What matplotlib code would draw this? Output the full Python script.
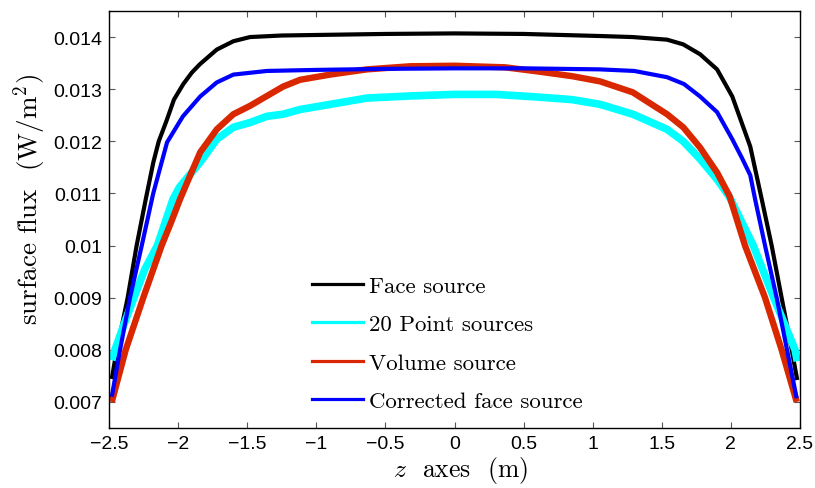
import matplotlib
matplotlib.use("Agg")
import matplotlib.pyplot as plt
from matplotlib.lines import Line2D

# ---------------- data ----------------
x_face = [-2.48, -2.444, -2.40, -2.365, -2.30, -2.234, -2.179, -2.14, -2.083, -2.03, -1.962,
          -1.90, -1.842, -1.72, -1.60, -1.48, -1.25, -1.00, -0.50, 0.00, 0.50, 1.053,
          1.29, 1.538, 1.655, 1.777, 1.90, 2.01, 2.14, 2.223, 2.295, 2.367, 2.44, 2.48]
y_face = [0.00744, 0.00800, 0.00855, 0.00900, 0.01000, 0.01089, 0.01160, 0.01200, 0.01240, 0.01280, 0.01310,
          0.01332, 0.01348, 0.01376, 0.01392, 0.01400, 0.01403, 0.01404, 0.01406, 0.01407, 0.01406, 0.01402,
          0.01400, 0.01395, 0.01386, 0.01367, 0.01338, 0.01286, 0.01190, 0.01089, 0.01000, 0.00900, 0.00800, 0.00742]

x_point = [-2.48, -2.457, -2.39, -2.32, -2.24, -2.15, -2.037, -1.99, -1.84, -1.72, -1.60, -1.48,
           -1.357, -1.24, -1.118, -0.633, -0.32, 0.00, 0.30, 0.60, 0.85, 1.053, 1.29, 1.538,
           1.655, 1.777, 1.90, 1.99, 2.162, 2.31, 2.464, 2.48]
y_point = [0.00780, 0.00800, 0.00850, 0.00900, 0.00955, 0.01000, 0.01089, 0.01112, 0.01160, 0.01204, 0.01227, 0.01236,
           0.01248, 0.01252, 0.01261, 0.01283, 0.01287, 0.01290, 0.01290, 0.01285, 0.01280, 0.01271, 0.01252, 0.01223,
           0.01200, 0.01166, 0.01127, 0.01093, 0.01000, 0.00900, 0.00800, 0.00778]

x_vol = [-2.48, -2.379, -2.252, -2.119, -2.05, -1.986, -1.92, -1.84, -1.72, -1.60, -1.48, -1.357,
         -1.24, -1.118, -0.90, -0.633, -0.32, 0.00, 0.365, 0.604, 0.85, 1.053, 1.29, 1.538,
         1.655, 1.777, 1.90, 1.99, 2.102, 2.247, 2.367, 2.476]
y_vol = [0.00700, 0.00800, 0.00900, 0.01000, 0.01045, 0.01089, 0.01130, 0.01179, 0.01223, 0.01252, 0.01268, 0.01287,
         0.01305, 0.01318, 0.01328, 0.01338, 0.01344, 0.01345, 0.01342, 0.01334, 0.01325, 0.01315, 0.01294, 0.01252,
         0.01227, 0.01188, 0.01140, 0.01095, 0.01000, 0.00900, 0.00800, 0.00700]

x_corr = [-2.48, -2.42, -2.348, -2.263, -2.18, -2.08, -1.965, -1.84, -1.72, -1.60, -1.357, -1.00,
          -0.50, 0.00, 0.50, 1.053, 1.30, 1.538, 1.66, 1.777, 1.90, 2.01, 2.08, 2.14, 2.175,
          2.247, 2.331, 2.406, 2.476]
y_corr = [0.00710, 0.00800, 0.00900, 0.01000, 0.01100, 0.01198, 0.01248, 0.01286, 0.01313, 0.01328, 0.01335, 0.01337,
          0.01339, 0.01340, 0.01340, 0.01338, 0.01335, 0.01323, 0.01310, 0.01286, 0.01256, 0.01204, 0.01168, 0.01135, 0.01089,
          0.01000, 0.00900, 0.00800, 0.00707]

labels = ["Face source", "20 Point sources", "Volume source", "Corrected face source"]
colors = ["#000000", "#00FFFF", "#D92800", "#0000FF"]

x_ticks = [-2.5, -2, -1.5, -1, -0.5, 0, 0.5, 1, 1.5, 2, 2.5]
x_ticklabels = ["\u22122.5", "\u22122", "\u22121.5", "\u22121", "\u22120.5", "0", "0.5", "1", "1.5", "2", "2.5"]
y_ticks = [0.007, 0.008, 0.009, 0.010, 0.011, 0.012, 0.013, 0.014]
y_ticklabels = ["0.007", "0.008", "0.009", "0.01", "0.011", "0.012", "0.013", "0.014"]

# ---------------- figure ----------------
plt.rcParams["mathtext.fontset"] = "cm"
plt.rcParams["font.family"] = ["Liberation Sans", "DejaVu Sans"]
plt.rcParams["axes.unicode_minus"] = False

W, H = 815, 489
fig = plt.figure(figsize=(W / 100, H / 100), dpi=100)
L, R, T, B = 109, 800, 12, 429
ax = fig.add_axes([L / W, 1 - B / H, (R - L) / W, (B - T) / H])

series = [(x_face, y_face), (x_point, y_point), (x_vol, y_vol), (x_corr, y_corr)]
widths = [3.0, 5.5, 4.6, 3.0]
for (xs, ys), c, lw in zip(series, colors, widths):
    ax.plot(xs, ys, color=c, lw=lw, solid_joinstyle="round", solid_capstyle="butt")

ax.set_xlim(-2.5, 2.5)
ax.set_ylim(0.0065, 0.0145)
ax.set_xticks(x_ticks)
ax.set_xticklabels(x_ticklabels)
ax.set_yticks(y_ticks)
ax.set_yticklabels(y_ticklabels)
ax.tick_params(direction="in", top=True, right=True, length=4, width=0.8,
               color="#555555", labelsize=14, pad=5)
for s in ax.spines.values():
    s.set_linewidth(1.0)

serif = ["cmr10", "DejaVu Serif"]
ax.set_xlabel(r"$z$  axes  (m)", fontsize=18.5, family=serif)
ax.set_ylabel(r"surface flux  (W/m$^2$)", fontsize=19.5, family=serif)
ax.xaxis.set_label_coords((460 - L) / (R - L), -(477 - B) / (B - T), transform=ax.transAxes)
ax.xaxis.label.set_va("baseline")
ax.yaxis.set_label_coords(-(109 - 30) / (R - L), (B - 200) / (B - T), transform=ax.transAxes)
ax.yaxis.label.set_va("center")

handles = [Line2D([], [], color=c, lw=2.3) for c in colors]
leg = ax.legend(handles, labels, loc="upper left", frameon=False,
                prop={"family": serif, "size": 16.5},
                bbox_to_anchor=((311.7 - L) / (R - L), (B - 277) / (B - T)),
                borderpad=0, borderaxespad=0, handlelength=2.25, handletextpad=0.25,
                labelspacing=0.80)

fig.savefig("out.png", dpi=100)
